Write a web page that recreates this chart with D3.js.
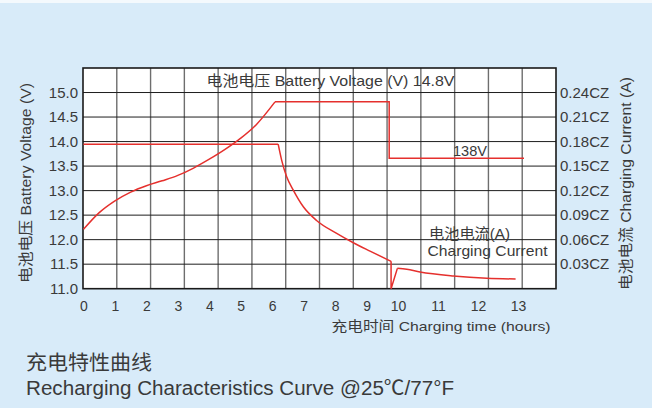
<!DOCTYPE html>
<html>
<head>
<meta charset="utf-8">
<script src="https://cdn.jsdelivr.net/npm/d3@7"></script>
<style>
  body { margin: 0; background: #d8ebf9; }
  svg { display: block; }
  text { font-family: "Liberation Sans", "Noto Sans CJK SC", sans-serif; fill: #3a3a3a; }
</style>
</head>
<body>
<svg></svg>
<script>
var width = 652, height = 408;

// axis ticks
var hourTicks = [0, 1, 2, 3, 4, 5, 6, 7, 8, 9, 10, 11, 12, 13];
var voltTicks = [11.0, 11.5, 12.0, 12.5, 13.0, 13.5, 14.0, 14.5, 15.0];
var currentTicks = [0.03, 0.06, 0.09, 0.12, 0.15, 0.18, 0.21, 0.24];

// battery voltage (V), smooth rise then constant steps
var voltRiseHours = [0, 0.5, 1.0, 1.5, 2.0, 2.5, 3.0, 3.5, 4.0, 4.5, 5.0, 5.5, 6.09];
var voltRiseValues = [12.21, 12.55, 12.79, 12.97, 13.10, 13.20, 13.31, 13.46, 13.64, 13.84, 14.07, 14.35, 14.81];
var voltHoldHours = [6.09, 9.72, 9.72, 13.15];
var voltHoldValues = [14.81, 14.81, 13.66, 13.66];

// charging current (CZ)
var curFlatHours = [0, 6.19];
var curFlatValues = [0.1768, 0.1768];
var curDropHours = [6.19, 6.30, 6.46, 6.67, 6.99, 7.41, 8.05, 8.58, 9.11, 9.78];
var curDropValues = [0.1768, 0.1573, 0.1369, 0.1206, 0.1002, 0.0835, 0.0677, 0.0562, 0.0460, 0.0335];
var curSpikeHours = [9.78, 9.78, 9.98];
var curSpikeValues = [0.0335, 0, 0.0249];
var curTailHours = [9.98, 10.22, 10.55, 11.38, 12.22, 12.94];
var curTailValues = [0.0249, 0.0237, 0.0204, 0.0155, 0.0127, 0.0119];

var pLeft = 83, pRight = 556, pTop = 68, pBottom = 288.7;

var svg = d3.select("svg").attr("width", width).attr("height", height);

svg.append("rect").attr("width", width).attr("height", 3).attr("fill", "#f4f9fd");

// hour labels on the chart are not evenly spaced past 10h
var x = d3.scaleLinear().domain([0, 10, 13]).range([83.5, 398, 518]);
var gx = d3.scaleLinear().domain([0, 14]).range([pLeft, pRight]);
var yV = d3.scaleLinear().domain([11, 15.5]).range([pBottom, pTop]);
var yC = d3.scaleLinear().domain([0, 0.27]).range([pBottom, pTop]);

svg.append("rect")
	.attr("x", pLeft).attr("y", pTop)
	.attr("width", pRight - pLeft).attr("height", pBottom - pTop)
	.attr("fill", "#fff");

svg.append("g").selectAll("line").data(d3.range(1, 14)).enter().append("line")
	.attr("x1", function(d) { return gx(d); }).attr("x2", function(d) { return gx(d); })
	.attr("y1", pTop).attr("y2", pBottom)
	.attr("stroke", "#6e6e6e").attr("stroke-width", 1.4);

svg.append("g").selectAll("line").data(voltTicks.slice(1)).enter().append("line")
	.attr("x1", pLeft).attr("x2", pRight)
	.attr("y1", function(d) { return yV(d); }).attr("y2", function(d) { return yV(d); })
	.attr("stroke", "#1e1e1e").attr("stroke-width", 1);

svg.append("rect")
	.attr("x", pLeft).attr("y", pTop)
	.attr("width", pRight - pLeft).attr("height", pBottom - pTop)
	.attr("fill", "none").attr("stroke", "#1a1a1a").attr("stroke-width", 1.6);

// axes
var axL = svg.append("g").attr("transform", "translate(" + pLeft + ",0)")
	.call(d3.axisLeft(yV).tickValues(voltTicks).tickFormat(d3.format(".1f")).tickSize(0).tickPadding(5));
var axR = svg.append("g").attr("transform", "translate(" + pRight + ",0)")
	.call(d3.axisRight(yC).tickValues(currentTicks).tickFormat(function(d) { return d.toFixed(2) + "CZ"; }).tickSize(0).tickPadding(4));
var axB = svg.append("g").attr("transform", "translate(0," + pBottom + ")")
	.call(d3.axisBottom(x).tickValues(hourTicks).tickSize(0).tickPadding(12));
[axL, axR, axB].forEach(function(a) {
	a.select(".domain").remove();
	a.attr("font-family", null).attr("font-size", null);
	a.selectAll("text").style("font-size", "15px").attr("fill", "#3a3a3a");
});
axB.selectAll("text").style("font-size", "14px");

// curves
var smooth = d3.line().curve(d3.curveMonotoneX);
var straight = d3.line();
function pts(hs, vs, ys) { return hs.map(function(h, i) { return [x(h), ys(vs[i])]; }); }

var red = "#e5302d";
[
	[smooth, pts(voltRiseHours, voltRiseValues, yV)],
	[straight, pts(voltHoldHours, voltHoldValues, yV)],
	[straight, pts(curFlatHours, curFlatValues, yC)],
	[smooth, pts(curDropHours, curDropValues, yC)],
	[straight, pts(curSpikeHours, curSpikeValues, yC)],
	[smooth, pts(curTailHours, curTailValues, yC)]
].forEach(function(s) {
	svg.append("path").attr("d", s[0](s[1]))
		.attr("fill", "none").attr("stroke", red).attr("stroke-width", 1.5);
});

// labels
function label(txt, xx, yy, size, len) {
	var t = svg.append("text").attr("x", xx).attr("y", yy).style("font-size", size + "px").text(txt);
	if (len) t.attr("textLength", len).attr("lengthAdjust", "spacingAndGlyphs");
	return t;
}
label("电池电压  Battery Voltage (V) 14.8V", 206.5, 86, 15, 248);
label("138V", 453, 156, 15, 34);
label("电池电流(A)", 429, 239, 15, 81);
label("Charging Current", 427.5, 256, 15, 120);
label("充电时间 Charging time (hours)", 331.5, 330.5, 13.5, 219);
label("充电特性曲线", 26, 370, 20, 126);
label("Recharging Characteristics Curve @25℃/77°F", 26, 395, 20, 428);

label("电池电压  Battery Voltage (V)", 0, 0, 15, 200)
	.attr("transform", "translate(31,283) rotate(-90)");
label("电池电流  Charging Current (A)", 0, 0, 15, 213)
	.attr("transform", "translate(630.5,290) rotate(-90)");
</script>
</body>
</html>
